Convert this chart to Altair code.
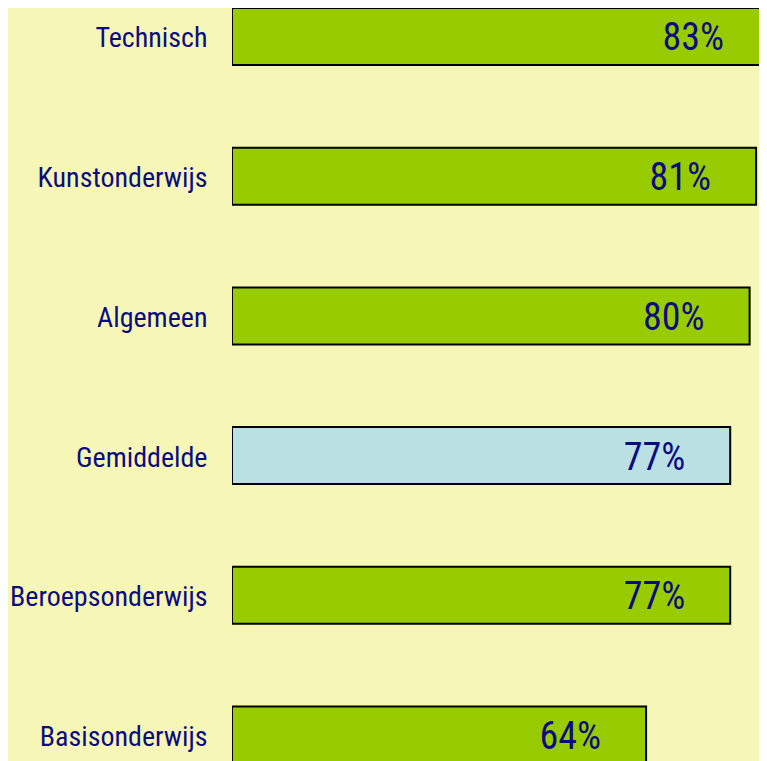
import altair as alt
import pandas as pd

categories = ["Technisch", "Kunstonderwijs", "Algemeen", "Gemiddelde", "Beroepsonderwijs", "Basisonderwijs"]
values = [83, 81, 80, 77, 77, 64]
labels = ["83%", "81%", "80%", "77%", "77%", "64%"]
kinds = ["sector", "sector", "sector", "gemiddelde", "sector", "sector"]

df = pd.DataFrame({"category": categories, "value": values, "label": labels, "kind": kinds})

FONT = "Roboto Condensed"
NAVY = "#0C0C80"
BG = "#F6F7B6"

y = alt.Y(
    "category:N",
    sort=categories,
    scale=alt.Scale(paddingInner=0.592, paddingOuter=0, range=[0, 755.5]),
    axis=alt.Axis(
        title=None, labelFontSize=28, labelColor=NAVY, labelFont=FONT,
        labelPadding=25, labelOffset=3, ticks=False, domain=False, labelLimit=0,
    ),
)
x = alt.X("value:Q", scale=alt.Scale(domain=[0, 81.45], nice=False, zero=True), axis=None)

bars = alt.Chart(df).mark_bar(stroke="black", strokeWidth=2, clip=True).encode(
    x=x,
    y=y,
    color=alt.Color(
        "kind:N",
        scale=alt.Scale(domain=["sector", "gemiddelde"], range=["#99CC00", "#BBE0E3"]),
        legend=None,
    ),
)

text = alt.Chart(df).mark_text(
    align="right", baseline="middle", dx=-45, dy=3, fontSize=38, font=FONT, color=NAVY
).encode(x=x, y=y, text="label:N")

chart = (
    (bars + text)
    .properties(width=527, height=753, background=BG,
                padding={"left": 224, "top": 0, "right": 0, "bottom": 0},
                autosize=alt.AutoSizeParams(type="none"))
    .configure_view(strokeWidth=0)
)

chart.save("out.html", embed_options={"renderer": "svg", "actions": False})
